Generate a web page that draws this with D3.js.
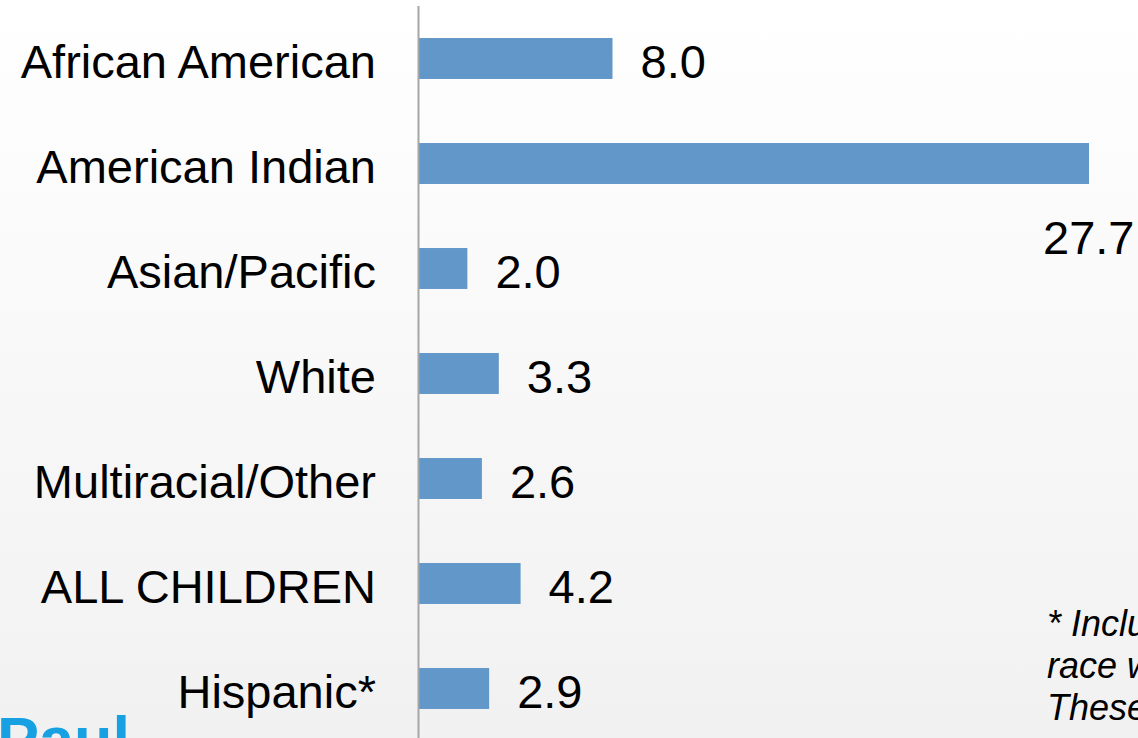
<!DOCTYPE html>
<html>
<head>
<meta charset="utf-8">
<script src="https://cdn.jsdelivr.net/npm/d3@7"></script>
<style>
  html, body { margin: 0; padding: 0; overflow: hidden; }
  svg { display: block; }
</style>
</head>
<body>
<svg id="chart" width="1138" height="738"></svg>
<script>
// chart data
const categories = ["African American", "American Indian", "Asian/Pacific", "White",
    "Multiracial/Other", "ALL CHILDREN", "Hispanic*"];
const values = [8.0, 27.7, 2.0, 3.3, 2.6, 4.2, 2.9];
const footnoteLines = ["* Includes children of any", "race who are Hispanic.", "These estimates"];

const width = 1138, height = 738;
const font = "'Liberation Sans', Arial, sans-serif";

const svg = d3.select("#chart");

// soft gray background gradient
const defs = svg.append("defs");
const grad = defs.append("linearGradient")
    .attr("id", "bg")
    .attr("x1", 0).attr("y1", 0).attr("x2", 0).attr("y2", 1);
grad.append("stop").attr("offset", "0%").attr("stop-color", "#ffffff");
grad.append("stop").attr("offset", "100%").attr("stop-color", "#f1f1f1");

svg.append("rect")
    .attr("width", width).attr("height", height)
    .attr("fill", "url(#bg)");

const x = d3.scaleLinear()
    .domain([0, 27.7])
    .range([419, 1089]);

const y = d3.scaleBand()
    .domain(categories)
    .range([6, 741])
    .paddingInner(0.61)
    .paddingOuter(0.305);

// bars
svg.selectAll("rect.bar")
    .data(values)
    .enter().append("rect")
    .attr("class", "bar")
    .attr("x", x(0))
    .attr("y", (d, i) => y(categories[i]))
    .attr("width", d => x(d) - x(0))
    .attr("height", y.bandwidth())
    .attr("fill", "#6297c9");

// vertical axis line
svg.append("line")
    .attr("x1", 418.5).attr("x2", 418.5)
    .attr("y1", 6).attr("y2", height)
    .attr("stroke", "#a6a6a6")
    .attr("stroke-width", 2);

// category labels
svg.selectAll("text.cat")
    .data(categories)
    .enter().append("text")
    .attr("class", "cat")
    .attr("x", 376)
    .attr("y", d => y(d) + y.bandwidth() / 2)
    .attr("dy", "0.41em")
    .attr("text-anchor", "end")
    .style("font-family", font)
    .style("font-size", "47px")
    .attr("fill", "#000")
    .text(d => d);

// value labels (the long bar has its label dropped below the bar end)
svg.selectAll("text.val")
    .data(values)
    .enter().append("text")
    .attr("class", "val")
    .attr("x", d => x(d) + 28 + 91 > width ? x(d) - 46 : x(d) + 28)
    .attr("y", (d, i) => {
        let cy = y(categories[i]) + y.bandwidth() / 2;
        return x(d) + 28 + 91 > width ? cy + 71 : cy;
    })
    .attr("dy", "0.41em")
    .style("font-family", font)
    .style("font-size", "47px")
    .attr("fill", "#000")
    .text(d => d.toFixed(1));

// footnote, runs off the right edge
svg.append("g")
    .selectAll("text")
    .data(footnoteLines)
    .enter().append("text")
    .attr("x", 1047)
    .attr("y", (d, i) => 636 + i * 42)
    .style("font-family", font)
    .style("font-size", "36px")
    .style("font-style", "italic")
    .attr("fill", "#000")
    .text(d => d);

// logo fragment in the bottom-left corner
svg.append("text")
    .attr("x", -3)
    .attr("y", 761)
    .style("font-family", font)
    .style("font-size", "63px")
    .style("font-weight", "bold")
    .attr("fill", "#17a1e3")
    .text("Paul");
</script>
</body>
</html>
